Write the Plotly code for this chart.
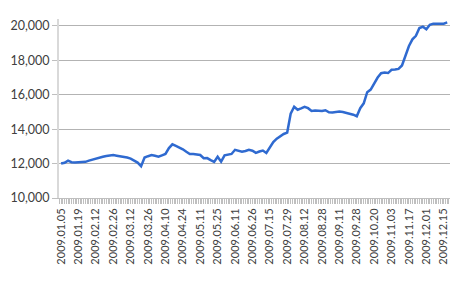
import plotly.graph_objects as go

tick_labels = ["2009.01.05", "2009.01.19", "2009.02.12", "2009.02.26", "2009.03.12",
               "2009.03.26", "2009.04.10", "2009.04.24", "2009.05.11", "2009.05.25",
               "2009.06.11", "2009.06.26", "2009.07.15", "2009.07.29", "2009.08.12",
               "2009.08.28", "2009.09.11", "2009.09.28", "2009.10.20", "2009.11.03",
               "2009.11.17", "2009.12.01", "2009.12.15"]

values = [12000, 12050, 12170, 12080, 12060, 12060, 12080, 12100, 12170, 12230,
          12300, 12370, 12400, 12440, 12480, 12500, 12460, 12430, 12390, 12350,
          12290, 12180, 12060, 11850, 12350, 12430, 12490, 12450, 12400, 12480,
          12560, 12900, 13120, 13030, 12940, 12830, 12690, 12560, 12560, 12550,
          12500, 12310, 12320, 12200, 12100, 12400, 12110, 12480, 12530, 12560,
          12800, 12760, 12690, 12730, 12800, 12750, 12620, 12700, 12760, 12620,
          12950, 13250, 13450, 13600, 13720, 13800, 14900, 15300, 15130, 15210,
          15300, 15220, 15060, 15080, 15070, 15050, 15100, 14980, 14970, 15000,
          15020, 15000, 14950, 14900, 14840, 14750, 15220, 15500, 16150, 16300,
          16650, 17000, 17250, 17290, 17260, 17450, 17460, 17500, 17700, 18300,
          18830, 19220, 19420, 19880, 19950, 19800, 20060, 20130, 20120, 20120,
          20130, 20200]

points_per_label = 5
x = list(range(len(values)))
tick_pos = [i * points_per_label for i in range(len(tick_labels))]

fig = go.Figure()
fig.add_trace(go.Scatter(x=x, y=values, mode="lines",
                         line=dict(color="#2f6ad0", width=2.5), hoverinfo="skip"))

fig.update_layout(
    width=450, height=300,
    margin=dict(l=59, r=0, t=19, b=102),
    paper_bgcolor="white", plot_bgcolor="white",
    showlegend=False,
    font=dict(family="Lato, Liberation Sans, sans-serif", color="#404040"),
)
fig.update_xaxes(
    range=[-0.6, len(values) - 0.2],
    tickmode="array", tickvals=tick_pos, ticktext=tick_labels,
    tickangle=-90, tickfont=dict(size=11, color="#404040"),
    ticks="outside", ticklen=5, tickcolor="#bfbfbf",
    minor=dict(ticks="outside", ticklen=5, tickcolor="#bfbfbf", dtick=0.5, tick0=0),
    showline=True, linecolor="#bfbfbf", linewidth=1,
    showgrid=False, zeroline=False,
)
fig.update_yaxes(
    range=[10000, 20400],
    tickmode="array", tickvals=[10000, 12000, 14000, 16000, 18000, 20000],
    ticktext=["10,000", "12,000", "14,000", "16,000", "18,000", "20,000"],
    tickfont=dict(size=12.5, color="#404040"),
    ticks="outside", ticklen=5, tickcolor="#bfbfbf",
    showline=True, linecolor="#d9d9d9", linewidth=2,
    showgrid=True, gridcolor="#b3b3b3", gridwidth=1,
    zeroline=False,
)

fig.write_html("out.html")
